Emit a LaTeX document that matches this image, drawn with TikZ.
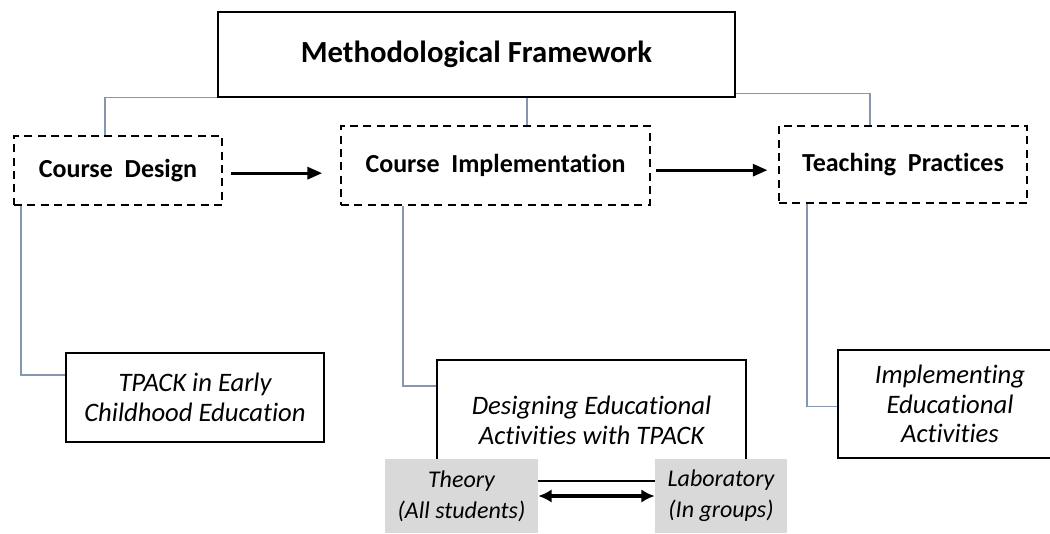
\documentclass[tikz,border=0pt]{standalone}
\usepackage{fontspec}
\setmainfont{Carlito}[Ligatures=NoCommon]
\usetikzlibrary{arrows.meta}
\definecolor{linkgray}{RGB}{132,151,176}
\definecolor{boxgray}{RGB}{217,217,217}
\tikzset{
  mainbox/.style={draw, line width=0.9pt, minimum width=#1, inner sep=0pt, align=center},
  stagebox/.style={draw, line width=1.3pt, dash pattern=on 6pt off 4pt, inner sep=0pt, align=center, font=\fontsize{19.5}{22}\selectfont\bfseries},
  topicbox/.style={draw, line width=0.8pt, inner sep=0pt, align=center, font=\fontsize{20}{22.3}\selectfont\itshape},
  modebox/.style={fill=boxgray, inner sep=0pt, align=center, font=\fontsize{18}{23}\selectfont\itshape},
  link/.style={draw=linkgray, line width=1pt},
  flow/.style={line width=2.2pt, -{Triangle[length=11pt,width=9pt]}},
}
\begin{document}
\begin{tikzpicture}[x=0.75pt,y=-0.75pt]
  \useasboundingbox (0,0) rectangle (1050,533);
  \clip (0,0) rectangle (1050,533);
  % top level
  \node[mainbox=387.75pt, minimum height=63.75pt, font=\fontsize{23}{26}\selectfont\bfseries] (frame) at (476.5,54.5) {Methodological Framework};
  % stages
  \node[stagebox, minimum width=156pt, minimum height=51.75pt] (design) at (118,170.5) {Course\ \ Design};
  \node[stagebox, minimum width=231.75pt, minimum height=59.25pt] (impl) at (495.5,165.5) {Course\ \ Implementation};
  \node[stagebox, minimum width=186pt, minimum height=57.75pt] (practice) at (903,164.5) {Teaching\ \ Practices};
  % topics
  \node[topicbox, minimum width=193.5pt, minimum height=66.75pt] (tpack) at (195,397.5) {TPACK in Early\\Childhood Education};
  \node[topicbox, minimum width=231.75pt, minimum height=90.75pt] (activities) at (591.5,420.5) {Designing Educational\\Activities with TPACK};
  \node[topicbox, minimum width=168pt, minimum height=81pt] (implementing) at (950,404) {Implementing\\Educational\\Activities};
  % modes
  \node[modebox, minimum width=114.75pt, minimum height=55.5pt] (theory) at (461.5,496) {Theory\\(All students)};
  \node[modebox, minimum width=99pt, minimum height=55.5pt] (lab) at (721,496) {Laboratory\\(In groups)};
  % tree links
  \draw[link] (frame.south west) -| ([xshift=-9.75pt]design.north);
  \draw[link] ([xshift=23.5pt]impl.north) -- ([xshift=23.5pt]impl.north |- frame.south);
  \draw[link] ([yshift=3pt]frame.south east) -| ([xshift=-24.75pt]practice.north);
  \draw[link] ([xshift=6pt]design.south west) |- ([yshift=17pt]tpack.west);
  \draw[link] ([xshift=47.25pt]impl.south west) |- ([yshift=26pt]activities.west);
  \draw[link] ([xshift=21.75pt]practice.south west) |- ([yshift=-2pt]implementing.west);
  % sequence
  \draw[flow, shorten <=6pt, shorten >=13.5pt] ([yshift=-2pt]design.east) -- ([yshift=-2pt]design.east -| impl.west);
  \draw[flow, shorten <=4pt, shorten >=8pt] ([yshift=-3.5pt]impl.east) -- ([yshift=-3.5pt]impl.east -| practice.west);
  \draw[line width=2.5pt, {Latex[length=10pt,width=10pt]}-{Latex[length=10pt,width=10pt]}] (theory.east) -- (lab.west);
\end{tikzpicture}
\end{document}
